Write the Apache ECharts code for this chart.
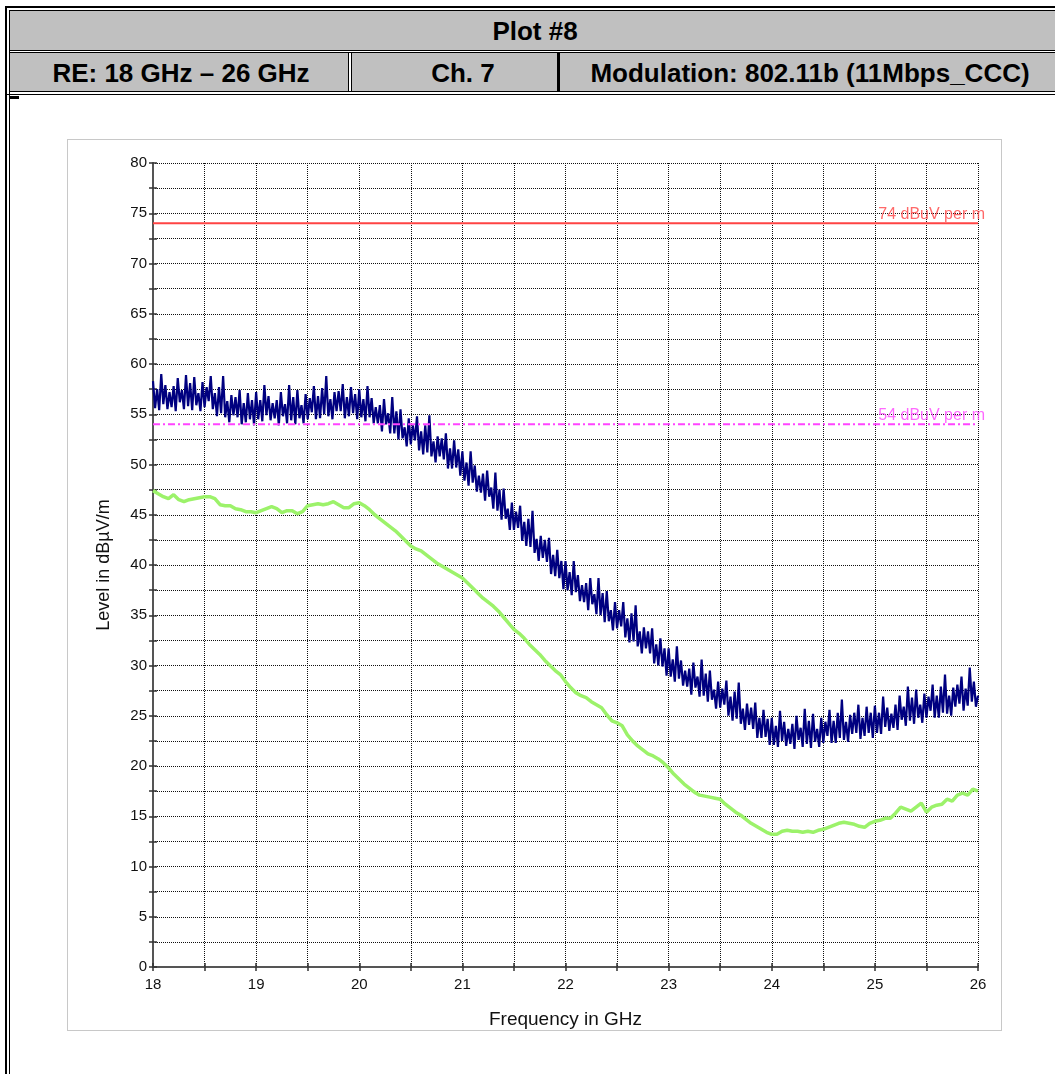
<!DOCTYPE html>
<html>
<head>
<meta charset="utf-8">
<script src="https://cdn.jsdelivr.net/npm/echarts@6/dist/echarts.min.js"></script>
<style>
  html, body { margin:0; padding:0; background:#fff; width:1055px; height:1074px; overflow:hidden; }
  .blk { position:absolute; background:#000; }
  .gray { position:absolute; background:#c0c0c0; }
  .hdr { position:absolute; font-family:"Liberation Sans", Arial, sans-serif; font-weight:bold; font-size:26px; color:#000; white-space:nowrap; transform:translateX(-50%); line-height:30px; }
  #panel { position:absolute; left:67px; top:139px; width:935px; height:892px; border:1px solid #c8c8c8; box-sizing:border-box; }
  #chart { position:absolute; left:0; top:0; width:1055px; height:1074px; }
</style>
</head>
<body>
<!-- header table -->
<div class="blk" style="left:5px;top:6px;width:1100px;height:2px;"></div>
<div class="blk" style="left:5px;top:6px;width:2px;height:1068px;"></div>
<div class="blk" style="left:9px;top:10px;width:1100px;height:1px;"></div>
<div class="blk" style="left:9px;top:10px;width:1px;height:1064px;"></div>
<div class="gray" style="left:10px;top:11px;width:1100px;height:39px;"></div>
<div class="blk" style="left:10px;top:50px;width:1100px;height:1px;"></div>
<div class="blk" style="left:10px;top:52px;width:1100px;height:1px;"></div>
<div class="gray" style="left:10px;top:53px;width:338px;height:38px;"></div>
<div class="blk" style="left:348px;top:52px;width:1px;height:40px;"></div>
<div class="blk" style="left:351px;top:52px;width:1px;height:40px;"></div>
<div class="gray" style="left:352px;top:53px;width:205px;height:38px;"></div>
<div class="blk" style="left:557px;top:52px;width:3px;height:40px;"></div>
<div class="gray" style="left:560px;top:53px;width:550px;height:38px;"></div>
<div class="blk" style="left:10px;top:91px;width:1100px;height:1px;"></div>
<div class="blk" style="left:5px;top:94px;width:1100px;height:1px;"></div>
<div class="blk" style="left:9px;top:96px;width:10px;height:3px;"></div>

<div class="hdr" style="left:535px;top:16px;">Plot #8</div>
<div class="hdr" style="left:181px;top:58px;">RE: 18 GHz – 26 GHz</div>
<div class="hdr" style="left:463px;top:58px;">Ch. 7</div>
<div class="hdr" style="left:810px;top:58px;">Modulation: 802.11b (11Mbps_CCC)</div>

<div id="panel"></div>
<div id="chart"></div>

<script>
// ---------------- data ----------------
const freqMin = 18, freqMax = 26;
const xTickLabels = [18, 19, 20, 21, 22, 23, 24, 25, 26];
const yTickLabels = [0, 5, 10, 15, 20, 25, 30, 35, 40, 45, 50, 55, 60, 65, 70, 75, 80];

// Peak trace (dark blue), one sweep point every 0.02 GHz from 18 GHz
const peakStep = 0.02;
const peakValues = [
  58.3, 55.6, 57.5, 55.4, 59.0, 56.0, 57.9, 55.5, 57.2, 55.7,
  57.8, 55.3, 58.6, 56.2, 57.4, 55.5, 58.9, 55.8, 58.1, 55.4,
  58.7, 55.9, 57.1, 55.3, 58.2, 55.7, 57.7, 56.3, 58.8, 55.5,
  57.1, 54.8, 57.7, 55.1, 58.8, 54.7, 56.3, 54.2, 56.9, 54.9,
  56.7, 54.7, 57.4, 54.0, 56.1, 54.2, 57.1, 54.5, 56.4, 53.9,
  57.2, 54.5, 56.4, 54.3, 57.9, 54.9, 56.8, 54.4, 56.1, 54.6,
  56.4, 53.9, 57.2, 54.8, 56.0, 54.1, 57.9, 54.4, 56.7, 54.0,
  57.4, 54.6, 55.9, 54.1, 57.0, 54.5, 56.6, 55.2, 57.8, 54.5,
  56.8, 54.6, 57.6, 55.0, 58.8, 54.8, 56.5, 54.5, 57.2, 55.3,
  57.3, 55.3, 58.0, 54.6, 56.7, 54.8, 57.7, 55.1, 57.0, 54.5,
  57.5, 54.7, 56.5, 54.3, 57.8, 54.7, 56.6, 54.1, 55.7, 54.1,
  55.9, 53.3, 56.5, 54.0, 55.1, 53.1, 56.7, 53.1, 55.3, 52.5,
  55.5, 52.6, 53.7, 51.8, 54.6, 52.0, 53.9, 52.4, 54.8, 51.4,
  53.3, 51.0, 53.9, 51.2, 54.9, 50.8, 52.3, 50.2, 52.8, 50.8,
  52.6, 50.5, 53.1, 49.6, 51.6, 49.6, 52.4, 49.7, 51.5, 48.9,
  51.3, 48.4, 50.2, 47.9, 51.3, 48.2, 49.9, 47.3, 48.9, 47.2,
  49.1, 46.4, 49.4, 46.8, 47.7, 45.6, 49.2, 45.4, 47.5, 44.5,
  47.6, 44.6, 45.6, 43.5, 46.2, 43.5, 45.3, 43.7, 45.9, 42.4,
  44.3, 41.9, 44.6, 41.8, 45.4, 41.2, 42.6, 40.4, 42.9, 40.7,
  42.5, 40.3, 42.7, 39.1, 41.0, 38.9, 41.5, 38.7, 40.4, 37.6,
  40.4, 37.5, 39.3, 37.0, 40.4, 37.3, 39.0, 36.4, 38.0, 36.3,
  38.2, 35.5, 38.7, 36.1, 37.1, 35.1, 38.7, 35.0, 37.2, 34.3,
  37.4, 34.4, 35.5, 33.5, 36.3, 33.7, 35.5, 33.9, 36.3, 32.8,
  34.7, 32.3, 35.2, 32.4, 36.0, 31.9, 33.4, 31.2, 33.8, 31.7,
  33.4, 31.2, 33.7, 30.2, 32.1, 30.0, 32.7, 29.9, 31.7, 29.0,
  31.7, 28.9, 30.6, 28.4, 31.9, 28.7, 30.5, 28.0, 29.5, 27.9,
  29.7, 27.1, 30.3, 27.8, 28.9, 26.9, 30.6, 27.0, 29.2, 26.4,
  29.5, 26.6, 27.6, 25.7, 28.4, 25.8, 27.7, 26.1, 28.5, 25.0,
  26.9, 24.5, 27.4, 24.7, 28.3, 24.2, 25.7, 23.6, 26.2, 24.1,
  25.8, 23.7, 26.3, 22.8, 24.8, 22.8, 25.6, 22.9, 24.7, 22.1,
  24.8, 22.1, 24.0, 21.9, 25.5, 22.5, 24.4, 22.0, 23.7, 22.2,
  24.2, 21.7, 25.0, 22.6, 23.8, 21.9, 25.7, 22.2, 24.5, 21.8,
  25.2, 22.4, 23.7, 21.9, 24.8, 22.3, 24.4, 23.0, 25.6, 22.3,
  24.5, 22.3, 25.3, 22.8, 26.6, 22.6, 24.4, 22.4, 25.1, 23.2,
  25.3, 23.3, 26.1, 22.7, 24.8, 23.0, 25.9, 23.3, 25.3, 22.8,
  26.0, 23.3, 25.3, 23.2, 26.9, 23.9, 25.8, 23.5, 25.2, 23.8,
  26.1, 23.6, 27.0, 24.6, 25.9, 24.0, 27.9, 24.5, 26.8, 24.2,
  27.6, 24.8, 26.1, 24.3, 27.2, 24.8, 26.9, 25.5, 28.1, 24.8,
  27.0, 24.8, 27.9, 25.3, 29.1, 25.2, 27.0, 25.0, 27.8, 25.9,
  28.1, 26.2, 28.9, 25.5, 27.7, 26.0, 29.8, 26.4, 28.4, 25.9,
  27.0
];

// Average trace (light green), one sweep point every 0.05 GHz from 18 GHz
const avgStep = 0.05;
const avgValues = [
  47.4, 47.1, 46.8, 46.6, 47.0, 46.5, 46.3, 46.5, 46.6, 46.7,
  46.8, 46.8, 46.6, 46.0, 45.9, 45.9, 45.6, 45.5, 45.3, 45.3,
  45.2, 45.4, 45.6, 45.8, 45.6, 45.2, 45.4, 45.4, 45.1, 45.3,
  45.9, 46.0, 46.1, 46.0, 46.1, 46.3, 46.0, 45.7, 45.7, 46.1,
  46.2, 45.9, 45.5, 45.0, 44.6, 44.2, 43.8, 43.4, 42.9, 42.4,
  41.9, 41.6, 41.4, 41.0, 40.6, 40.2, 39.9, 39.6, 39.3, 39.0,
  38.7, 38.2, 37.7, 37.2, 36.7, 36.3, 35.9, 35.4, 34.8, 34.2,
  33.6, 33.2, 32.7, 32.1, 31.6, 31.1, 30.5, 30.0, 29.5, 29.1,
  28.4, 27.8, 27.3, 27.0, 26.8, 26.4, 26.1, 25.8, 25.1, 24.5,
  24.3, 24.0, 23.1, 22.5, 22.0, 21.6, 21.2, 21.0, 20.7, 20.3,
  19.8, 19.2, 18.7, 18.2, 17.8, 17.4, 17.1, 17.0, 16.9, 16.8,
  16.7, 16.2, 15.8, 15.4, 15.1, 14.7, 14.3, 14.0, 13.7, 13.4,
  13.2, 13.2, 13.5, 13.6, 13.5, 13.5, 13.4, 13.5, 13.4, 13.6,
  13.7, 13.9, 14.1, 14.3, 14.4, 14.3, 14.2, 14.0, 13.9, 14.3,
  14.5, 14.6, 14.8, 14.8, 15.3, 15.9, 15.7, 15.5, 15.9, 16.3,
  15.4, 15.9, 16.1, 16.2, 16.7, 16.5, 17.1, 17.3, 17.1, 17.7,
  17.5
];

const limitPeak = 74;
const limitAvg = 54;
const limitPeakLabel = '74 dBuV per m';
const limitAvgLabel = '54 dBuV per m';

// ---------------- chart ----------------
const peakData = peakValues.map((v, i) => [freqMin + i * peakStep, v]);
const avgData = avgValues.map((v, i) => [freqMin + i * avgStep, v]);

const chart = echarts.init(document.getElementById('chart'), null, { renderer: 'canvas' });
const font = '"Liberation Sans", Arial, Helvetica, sans-serif';
const gridLine = { show: true, lineStyle: { color: '#111', width: 1, type: [1, 1] } };

const option = {
  animation: false,
  backgroundColor: 'transparent',
  grid: { left: 153, top: 163, width: 825, height: 804, containLabel: false },
  xAxis: [
    {
      type: 'value', min: freqMin, max: freqMax, interval: 0.5,
      name: 'Frequency in GHz', nameLocation: 'middle', nameGap: 43,
      nameTextStyle: { fontFamily: font, fontSize: 19, color: '#111' },
      axisLine: { show: true, onZero: false, lineStyle: { color: '#555', width: 2 } },
      axisTick: { show: true, inside: false, length: 4, lineStyle: { color: '#333', width: 1.5 } },
      axisLabel: { show: true, margin: 10, fontFamily: font, fontSize: 15, color: '#111',
        formatter: v => (xTickLabels.indexOf(Math.round(v * 100) / 100) >= 0 ? String(Math.round(v)) : '') },
      splitLine: gridLine
    },
    {
      type: 'value', min: freqMin, max: freqMax, interval: 0.5, position: 'bottom',
      axisLine: { show: false }, axisLabel: { show: false }, splitLine: { show: false },
      axisTick: { show: true, inside: true, length: 4, lineStyle: { color: '#333', width: 1.5 } }
    }
  ],
  yAxis: [
    {
      type: 'value', min: 0, max: 80, interval: 2.5,
      name: 'Level in dBµV/m', nameLocation: 'middle', nameGap: 40, nameRotate: 90,
      nameTextStyle: { fontFamily: font, fontSize: 18, color: '#111' },
      axisLine: { show: true, onZero: false, lineStyle: { color: '#555', width: 2 } },
      axisTick: { show: true, inside: false, length: 4, lineStyle: { color: '#333', width: 1.5 } },
      axisLabel: { show: true, margin: 6, fontFamily: font, fontSize: 15, color: '#111',
        formatter: v => (yTickLabels.indexOf(v) >= 0 ? String(v) : '') },
      splitLine: gridLine
    },
    {
      type: 'value', min: 0, max: 80, interval: 2.5, position: 'left',
      axisLine: { show: false }, axisLabel: { show: false }, splitLine: { show: false },
      axisTick: { show: true, inside: true, length: 4, lineStyle: { color: '#333', width: 1.5 } }
    }
  ],
  series: [
    {
      name: 'Average', type: 'line', data: avgData, showSymbol: false, symbol: 'none',
      lineStyle: { color: '#9cf26a', width: 3.5 }, z: 3
    },
    {
      name: 'Peak', type: 'line', data: peakData, showSymbol: false, symbol: 'none',
      lineStyle: { color: '#000080', width: 2.2, join: 'miter', miterLimit: 2 }, z: 4
    },
    {
      name: 'Limit peak', type: 'line', data: [[freqMin, limitPeak], [freqMax, limitPeak]],
      showSymbol: false, symbol: 'none', lineStyle: { color: '#ff4444', width: 2 }, z: 5
    },
    {
      name: 'Limit avg', type: 'line', data: [[freqMin, limitAvg], [freqMax, limitAvg]],
      showSymbol: false, symbol: 'none', lineStyle: { color: '#ff44ff', width: 2, type: [7, 3, 2, 3] }, z: 5
    },
    {
      name: 'Limit labels', type: 'scatter', symbolSize: 0, z: 6, silent: true,
      itemStyle: { color: 'rgba(0,0,0,0)' },
      data: [
        { value: [freqMax, limitPeak], label: { formatter: limitPeakLabel, color: '#ff4444' } },
        { value: [freqMax, limitAvg], label: { formatter: limitAvgLabel, color: '#ff44ff' } }
      ],
      label: { show: true, position: [7, -1], align: 'right', verticalAlign: 'bottom',
        fontFamily: font, fontSize: 16 }
    }
  ]
};
chart.setOption(option);
</script>
</body>
</html>
